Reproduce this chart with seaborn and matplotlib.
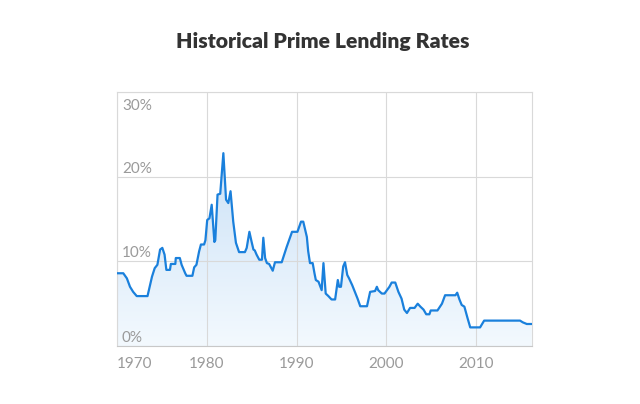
import numpy as np
import seaborn as sns
import matplotlib.pyplot as plt
from matplotlib.colors import LinearSegmentedColormap
from matplotlib.transforms import offset_copy

# Data (decimal year, prime rate %)
years = [
    1970.0, 1970.7, 1971.1, 1971.45, 1971.8, 1972.2, 1973.4, 1973.9, 1974.2, 1974.5,
    1974.8, 1975.05, 1975.3, 1975.5, 1975.9, 1976.0, 1976.5, 1976.55, 1977.0, 1977.2,
    1977.6, 1977.75, 1978.4, 1978.6, 1978.85, 1979.15, 1979.35, 1979.7, 1979.85, 1980.05,
    1980.3, 1980.55, 1980.85, 1980.95, 1981.2, 1981.5, 1981.85, 1982.15, 1982.4, 1982.65,
    1982.95, 1983.25, 1983.6, 1984.25, 1984.45, 1984.75, 1985.0, 1985.2, 1985.35, 1985.55,
    1985.85, 1986.15, 1986.3, 1986.5, 1986.7, 1986.95, 1987.35, 1987.6, 1988.35, 1988.9,
    1989.5, 1990.1, 1990.5, 1990.75, 1990.95, 1991.15, 1991.3, 1991.5, 1991.8, 1992.0,
    1992.15, 1992.45, 1992.8, 1993.0, 1993.25, 1993.55, 1993.9, 1994.3, 1994.6, 1994.75,
    1994.95, 1995.2, 1995.4, 1995.65, 1995.85, 1996.2, 1996.5, 1996.8, 1997.1, 1997.85,
    1998.2, 1998.75, 1998.95, 1999.1, 1999.5, 1999.8, 2000.35, 2000.6, 2001.0, 2001.35,
    2001.7, 2002.0, 2002.3, 2002.65, 2003.15, 2003.5, 2003.8, 2004.15, 2004.45, 2004.8,
    2004.95, 2005.7, 2006.2, 2006.55, 2007.7, 2007.9, 2008.15, 2008.4, 2008.7, 2009.05,
    2009.35, 2010.45, 2010.9, 2014.9, 2015.2, 2015.65, 2016.2,
]
rates = [
    8.6, 8.6, 8.0, 7.0, 6.4, 5.9, 5.9, 8.2, 9.2, 9.6,
    11.4, 11.6, 10.8, 9.0, 9.0, 9.7, 9.7, 10.4, 10.4, 9.6,
    8.6, 8.3, 8.3, 9.3, 9.6, 11.2, 12.0, 12.0, 12.5, 14.9,
    15.1, 16.7, 12.3, 12.5, 17.9, 18.0, 22.8, 17.3, 16.9, 18.3,
    14.7, 12.2, 11.1, 11.1, 11.6, 13.5, 12.3, 11.4, 11.3, 10.8,
    10.2, 10.2, 12.8, 10.4, 9.8, 9.7, 8.9, 9.9, 9.9, 11.7,
    13.5, 13.5, 14.7, 14.7, 13.8, 12.9, 11.2, 9.8, 9.8, 8.6,
    7.8, 7.6, 6.6, 9.8, 6.2, 5.9, 5.5, 5.5, 7.8, 7.0,
    7.0, 9.4, 9.9, 8.4, 8.0, 7.2, 6.4, 5.6, 4.7, 4.7,
    6.4, 6.5, 7.0, 6.6, 6.2, 6.2, 7.0, 7.5, 7.5, 6.4,
    5.6, 4.3, 3.9, 4.5, 4.5, 5.0, 4.65, 4.3, 3.75, 3.75,
    4.2, 4.2, 5.0, 6.0, 6.0, 6.3, 5.5, 4.85, 4.65, 3.3,
    2.2, 2.2, 3.0, 3.0, 2.8, 2.6, 2.6,
]
x_ticks = [1970, 1980, 1990, 2000, 2010]
y_ticks = [0, 10, 20, 30]
title = "Historical Prime Lending Rates"

sns.set_style("white")
plt.rcParams['font.family'] = ['Lato', 'DejaVu Sans']

line_color = "#1a80dc"
grid_color = "#d9d9d9"
label_color = "#9a9a9a"

fig = plt.figure(figsize=(6.4, 4.04), dpi=100)
ax = fig.add_axes([0.1828, 0.1436, 0.648, 0.628])

# gradient fill under the line, clipped to the area polygon
poly = ax.fill_between(years, rates, 0, color="none", lw=0)
cmap = LinearSegmentedColormap.from_list("fill", ["#f3f9fe", "#cce2f7"])
grad = np.linspace(0, 1, 256).reshape(-1, 1)
img = ax.imshow(grad, extent=[years[0], years[-1], 0, max(rates)], aspect="auto",
                origin="lower", cmap=cmap, zorder=0)
img.set_clip_path(poly.get_paths()[0], transform=ax.transData)

sns.lineplot(x=years, y=rates, ax=ax, color=line_color, lw=1.6,
             sort=False, estimator=None, zorder=3)

ax.set_xlim(1970, 2016.2)
ax.set_ylim(0, 30)
ax.set_xticks(x_ticks)
ax.set_yticks(y_ticks)
ax.set_yticklabels([])
ax.set_axisbelow(True)
ax.grid(True, color=grid_color, lw=0.8)
ax.tick_params(length=0, pad=8, labelsize=11, labelcolor=label_color)
ax.set_xticklabels([str(t) for t in x_ticks])
ax.get_xticklabels()[0].set_horizontalalignment("left")
for s in ax.spines.values():
    s.set_color(grid_color)
    s.set_linewidth(0.8)
ax.spines["bottom"].set_color("#c8c8c8")
ax.set_xlabel("")
ax.set_ylabel("")

# y labels sit inside the plot, just above their gridline
for v in y_ticks:
    if v == y_ticks[-1]:
        tr = offset_copy(ax.transData, fig=fig, x=5, y=-7, units="dots")
        ax.text(ax.get_xlim()[0], v, f"{v}%", transform=tr, ha="left", va="top",
                fontsize=11, color=label_color)
    else:
        tr = offset_copy(ax.transData, fig=fig, x=5, y=4, units="dots")
        ax.text(ax.get_xlim()[0], v, f"{v}%", transform=tr, ha="left", va="baseline",
                fontsize=11, color=label_color)

fig.text(0.504, 1 - 48 / 404, title, ha="center", va="baseline",
         fontsize=15.2, fontweight="heavy", color="#333333")

fig.savefig("out.png", dpi=100)
